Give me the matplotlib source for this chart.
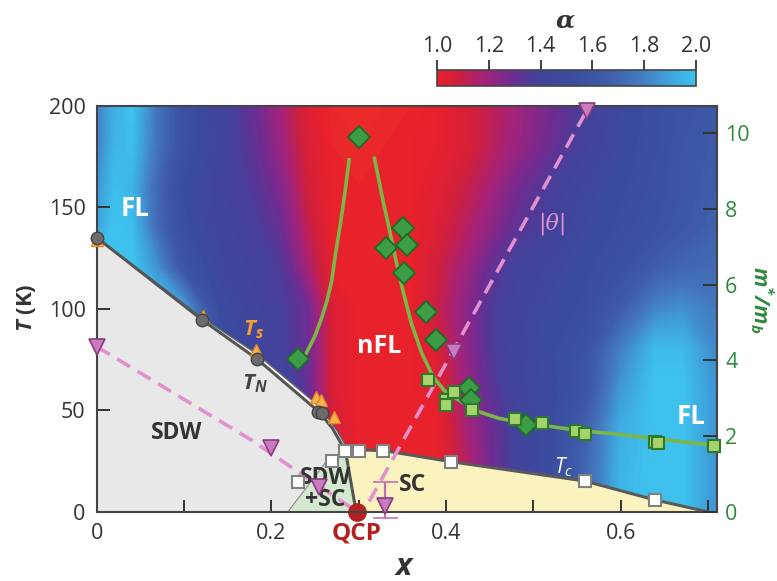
import numpy as np
import matplotlib
matplotlib.use("Agg")
import matplotlib.pyplot as plt
from matplotlib.colors import LinearSegmentedColormap, Normalize
import matplotlib.cm as cm

plt.rcParams['font.family'] = ['Open Sans', 'DejaVu Sans']
plt.rcParams['mathtext.fontset'] = 'custom'
plt.rcParams['mathtext.rm'] = 'Open Sans'
plt.rcParams['mathtext.it'] = 'Open Sans:italic'
plt.rcParams['mathtext.bf'] = 'Open Sans:bold'
plt.rcParams['mathtext.bfit'] = 'Open Sans:italic:bold'

# ---------------- data ----------------
# alpha field (resistivity exponent)
alpha_x = [0.00, 0.02, 0.04, 0.07, 0.10, 0.14, 0.18, 0.21, 0.24, 0.27, 0.30, 0.33,
           0.36, 0.39, 0.42, 0.45, 0.48, 0.52, 0.56, 0.60, 0.64, 0.67, 0.71]
alpha_T = [0, 20, 40, 60, 80, 100, 120, 140, 160, 180, 200]
alpha_T0   = [2.0, 2.0, 2.0, 2.0, 2.0, 2.0, 2.0, 1.6, 1.4, 1.05, 1.0, 1.0, 1.0, 1.0, 1.10, 1.25, 1.38, 1.48, 1.70, 1.95, 2.0, 2.0, 1.85]
alpha_T20  = [2.0, 2.0, 2.0, 2.0, 2.0, 2.0, 2.0, 1.6, 1.4, 1.05, 1.0, 1.0, 1.0, 1.0, 1.12, 1.27, 1.40, 1.50, 1.70, 1.95, 2.0, 2.0, 1.85]
alpha_T40  = [2.0, 2.0, 2.0, 2.0, 2.0, 2.0, 1.8, 1.6, 1.45, 1.08, 1.0, 1.0, 1.0, 1.0, 1.15, 1.28, 1.40, 1.50, 1.68, 1.93, 2.0, 2.0, 1.85]
alpha_T60  = [2.0, 2.0, 2.0, 2.0, 2.0, 2.0, 1.75, 1.45, 1.32, 1.05, 1.0, 1.0, 1.0, 1.02, 1.18, 1.32, 1.42, 1.48, 1.60, 1.87, 2.0, 2.0, 1.85]
alpha_T80  = [2.0, 2.0, 2.0, 2.0, 2.0, 1.55, 1.42, 1.40, 1.30, 1.05, 1.0, 1.0, 1.0, 1.05, 1.20, 1.35, 1.43, 1.50, 1.58, 1.80, 1.97, 1.97, 1.82]
alpha_T100 = [2.0, 2.0, 2.0, 2.0, 1.9, 1.50, 1.42, 1.38, 1.30, 1.05, 1.0, 1.0, 1.0, 1.10, 1.22, 1.35, 1.42, 1.48, 1.52, 1.65, 1.82, 1.85, 1.78]
alpha_T120 = [2.0, 2.0, 2.0, 1.85, 1.6, 1.45, 1.40, 1.36, 1.18, 1.0, 1.0, 1.0, 1.0, 1.08, 1.18, 1.30, 1.40, 1.45, 1.50, 1.56, 1.66, 1.70, 1.72]
alpha_T140 = [1.9, 2.0, 1.98, 1.72, 1.52, 1.43, 1.38, 1.30, 1.12, 1.0, 1.0, 1.0, 1.0, 1.05, 1.13, 1.22, 1.32, 1.40, 1.47, 1.52, 1.57, 1.62, 1.68]
alpha_T160 = [1.85, 1.98, 1.95, 1.70, 1.50, 1.42, 1.35, 1.25, 1.08, 1.0, 0.99, 1.0, 1.0, 1.03, 1.09, 1.17, 1.27, 1.37, 1.45, 1.50, 1.55, 1.60, 1.66]
alpha_T180 = [1.8, 1.95, 1.98, 1.75, 1.55, 1.43, 1.32, 1.20, 1.06, 0.99, 0.98, 0.99, 1.0, 1.01, 1.05, 1.12, 1.20, 1.30, 1.40, 1.48, 1.54, 1.60, 1.64]
alpha_T200 = [1.8, 1.93, 2.0, 1.75, 1.55, 1.42, 1.30, 1.18, 1.04, 0.98, 0.97, 0.98, 0.99, 1.01, 1.05, 1.12, 1.18, 1.28, 1.38, 1.47, 1.53, 1.58, 1.62]

# phase boundaries
tn_line_x = [0.0, 0.121, 0.183, 0.255, 0.270, 0.282, 0.286, 0.297]
tn_line_T = [135, 94.4, 75.4, 49.0, 41.0, 32.0, 27.0, 0.0]
ts_line_x = [0.0, 0.121, 0.183, 0.255, 0.275, 0.287]
ts_line_T = [135, 95.5, 77.8, 51.8, 40.0, 31.0]
tc_line_x = [0.284, 0.300, 0.330, 0.406, 0.559, 0.639, 0.699]
tc_line_T = [30.5, 30.5, 30.0, 24.6, 15.1, 5.8, 0.0]
coex_x = [0.219, 0.267, 0.286, 0.297]
coex_T = [0.0, 27.0, 27.0, 0.0]

# transition points
tn_pts_x = [0.0, 0.121, 0.183, 0.253, 0.258]
tn_pts_T = [134.8, 94.4, 75.2, 49.3, 48.5]
ts_pts_x = [0.0, 0.122, 0.182, 0.251, 0.257, 0.272]
ts_pts_T = [134.0, 96.3, 79.6, 56.6, 55.0, 46.8]
tc_pts_x = [0.231, 0.269, 0.284, 0.300, 0.328, 0.406, 0.559, 0.639]
tc_pts_T = [14.8, 25.0, 30.0, 30.0, 29.8, 24.6, 15.1, 5.8]
qcp_x = [0.298]
qcp_T = [0.0]

# |theta| crossover
theta_left_x = [0.0, 0.177, 0.298]
theta_left_T = [81.3, 35.3, 0.0]
theta_right_x = [0.312, 0.561]
theta_right_T = [5.0, 197.5]
theta_x = [0.0, 0.200, 0.255, 0.409, 0.561]
theta_T = [81.3, 31.2, 12.3, 78.8, 197.5]
theta_err_x = [0.330]
theta_err_T = [2.8]
theta_err_lo = [6.1]
theta_err_hi = [12.0]

# effective mass m*/m_b (right axis)
dia_x = [0.230, 0.300, 0.351, 0.331, 0.355, 0.352, 0.377, 0.389, 0.426, 0.428, 0.491]
dia_m = [4.03, 9.91, 7.49, 6.96, 7.05, 6.32, 5.29, 4.54, 3.28, 2.95, 2.29]
sq_x = [0.379, 0.400, 0.400, 0.409, 0.430, 0.479, 0.510, 0.549, 0.559, 0.639, 0.643, 0.707]
sq_m = [3.48, 2.95, 2.82, 3.15, 2.69, 2.44, 2.35, 2.14, 2.05, 1.85, 1.81, 1.74]
fit_left_x = [0.240, 0.250, 0.258, 0.264, 0.269, 0.274, 0.279, 0.284, 0.289]
fit_left_m = [4.19, 4.65, 5.15, 5.6, 6.1, 6.9, 7.6, 8.4, 9.3]
fit_right_x = [0.318, 0.327, 0.336, 0.343, 0.350, 0.360, 0.372, 0.385, 0.398, 0.411,
               0.425, 0.438, 0.460, 0.490, 0.518, 0.550, 0.600, 0.650, 0.709]
fit_right_m = [9.34, 8.3, 7.36, 6.6, 5.9, 5.0, 4.2, 3.57, 3.2, 3.0,
               2.8, 2.64, 2.47, 2.34, 2.26, 2.15, 2.04, 1.9, 1.75]

# colour scale
cmap_stops = [0.90, 1.00, 1.08, 1.18, 1.28, 1.38, 1.50, 1.65, 1.78, 1.90, 2.00]
cmap_colors = ['#ee4a28', '#e8202a', '#d01f3c', '#a3237a', '#722a90', '#45409a',
               '#3a4b9e', '#3e5aa9', '#4478bf', '#3fa3dc', '#3ec3ee']
cbar_ticks = [1.0, 1.2, 1.4, 1.6, 1.8, 2.0]

# ---------------- figure ----------------
fig = plt.figure(figsize=(7.77, 5.81), dpi=100)
ax = fig.add_axes([0.1245, 0.1193, 0.798, 0.6988])

lo, hi = cmap_stops[0], cmap_stops[-1]
field_cmap = LinearSegmentedColormap.from_list(
    'field', [((s - lo) / (hi - lo), c) for s, c in zip(cmap_stops, cmap_colors)])
cb_stops = [(s, c) for s, c in zip(cmap_stops, cmap_colors) if s >= 1.0]
cbar_cmap = LinearSegmentedColormap.from_list(
    'cbar', [((s - 1.0) / (2.0 - 1.0), c) for s, c in cb_stops])

alpha_grid = np.array([alpha_T0, alpha_T20, alpha_T40, alpha_T60, alpha_T80, alpha_T100,
                       alpha_T120, alpha_T140, alpha_T160, alpha_T180, alpha_T200])
ax.contourf(alpha_x, alpha_T, alpha_grid, levels=np.linspace(lo, hi, 111),
            cmap=field_cmap, norm=Normalize(lo, hi), extend='both', zorder=0)

# regions
ax.fill([0.0] + tn_line_x, [0.0] + tn_line_T, color='#e8e8e8', lw=0, zorder=1)
band_x = ts_line_x + tn_line_x[5::-1]
band_T = ts_line_T + tn_line_T[5::-1]
ax.fill(band_x, band_T, color='white', lw=0, zorder=1)
ax.fill([0.297, 0.286] + tc_line_x, [0.0, 27.0] + tc_line_T, color='#faf3bf', lw=0, zorder=1)
ax.fill(coex_x, coex_T, facecolor='#d4e8cf', edgecolor='#8a8a8a', lw=0.8, zorder=1.2)

ax.plot(ts_line_x, ts_line_T, color='#666666', lw=1.0, zorder=2)
ax.plot(tn_line_x, tn_line_T, color='#555555', lw=2.2, zorder=2, solid_capstyle='butt')
ax.plot(tc_line_x, tc_line_T, color='#5a5a5a', lw=2.2, zorder=2)

# theta crossover
pink = '#e290cf'
ax.plot(theta_left_x, theta_left_T, color=pink, lw=2.6, ls=(0, (4.2, 2.4)), zorder=2.2)
ax.plot(theta_right_x, theta_right_T, color=pink, lw=2.6, ls=(0, (4.2, 2.4)), zorder=2.2)
ax.errorbar(theta_err_x, theta_err_T, yerr=[theta_err_lo, theta_err_hi], fmt='v', ms=12,
            mfc='#c87cbf', mec='#8b3a80', mew=1.2, ecolor='#c070b4', elinewidth=1.6,
            capsize=9, capthick=1.6, zorder=5, clip_on=False)
ax.plot(theta_x, theta_T, 'v', ms=12, mfc='#c87cbf', mec='#8b3a80', mew=1.2,
        zorder=5, clip_on=False)

# transition points
ax.plot(ts_pts_x, ts_pts_T, '^', ms=9, mfc='#f6b451', mec='#e58b1f', mew=1.0,
        zorder=4, clip_on=False)
ax.plot(tn_pts_x, tn_pts_T, 'o', ms=9, mfc='#6b6b6b', mec='#444444', mew=1.0,
        zorder=4.2, clip_on=False)
ax.plot(tc_pts_x, tc_pts_T, 's', ms=8.5, mfc='white', mec='#808080', mew=1.5, zorder=4)
ax.plot(qcp_x, qcp_T, 'o', ms=12.5, color='#b3201f', zorder=2.4, clip_on=False)

# labels inside
bold = dict(fontweight='bold', ha='center', va='center')
ax.text(0.044, 149.4, 'FL', color='white', fontsize=18.5, **bold)
ax.text(0.680, 46.8, 'FL', color='white', fontsize=18.5, **bold)
ax.text(0.324, 81.5, 'nFL', color='white', fontsize=18, **bold)
ax.text(0.092, 39.0, 'SDW', color='#333333', fontsize=16.5, **bold)
ax.text(0.262, 11.0, 'SDW\n+SC', color='#333333', fontsize=16.5, linespacing=0.9, **bold)
ax.text(0.362, 13.0, 'SC', color='#333333', fontsize=16.5, **bold)
ax.text(0.297, -10.6, 'QCP', color='#b3201f', fontsize=17.5, clip_on=False, **bold)
ax.text(0.180, 89.5, r'$\mathbfit{T}_{\mathbfit{s}}$', color='#f0a030', fontsize=16,
        ha='center', va='center')
ax.text(0.181, 63.0, r'$\mathbfit{T}_{\mathbfit{N}}$', color='#444444', fontsize=16,
        ha='center', va='center')
ax.text(0.535, 22.0, r'$\mathit{T}_{\mathit{c}}$', color='white', fontsize=15,
        ha='center', va='center')
ax.text(0.522, 142.0, '|θ|', color=pink, fontsize=16, family='DejaVu Serif',
        style='italic', ha='center', va='center')

# axes
ax.set_xlim(0, 0.71)
ax.set_ylim(0, 200)
ax.set_xticks([0, 0.2, 0.4, 0.6])
ax.set_xticklabels(['0', '0.2', '0.4', '0.6'])
ax.set_xticks([0.1, 0.3, 0.5, 0.7], minor=True)
ax.set_yticks([0, 50, 100, 150, 200])
ax.tick_params(axis='both', which='both', direction='in', length=9, width=1.4,
               color='#333333', labelcolor='#333333', labelsize=15.5, pad=8)
for s in ax.spines.values():
    s.set_color('#444444')
    s.set_linewidth(1.5)

ax2 = ax.twinx()
ax2.set_ylim(0, 10.73)
ax2.set_yticks([0, 2, 4, 6, 8, 10])
ax2.tick_params(axis='y', direction='in', length=10, width=1.4, color='#333333',
                labelcolor='#2f8a3a', labelsize=15.5, pad=6)
ax2.plot(fit_left_x, fit_left_m, color='#7ab648', lw=2.6, zorder=3)
ax2.plot(fit_right_x, fit_right_m, color='#7ab648', lw=2.6, zorder=3)
ax2.plot(dia_x, dia_m, 'D', ms=11, mfc='#3d9c46', mec='#1f6b28', mew=1.3, zorder=4)
ax2.plot(sq_x, sq_m, 's', ms=9, mfc='#a6d36b', mec='#2d7a2e', mew=1.5, zorder=4,
         clip_on=False)
for s in ax2.spines.values():
    s.set_visible(False)

# axis titles
fig.text(27 / 777, 1 - 308 / 581, r'$\mathbfit{T}$ (K)', rotation=90, fontsize=16,
         fontweight='bold', color='#333333', ha='center', va='center')
fig.text(405 / 777, 1 - 567 / 581, r'$\mathbfit{x}$', fontsize=22, color='#333333',
         ha='center', va='center')
fig.text(762 / 777, 1 - 300 / 581, r'$\mathbfit{m^{*}/m_{b}}$', rotation=270, fontsize=15.5,
         color='#2f8a3a', ha='center', va='center')

# colorbar
cax = fig.add_axes([437 / 777, 1 - 86 / 581, 259 / 777, 16 / 581])
sm = cm.ScalarMappable(norm=Normalize(1.0, 2.0), cmap=cbar_cmap)
cb = fig.colorbar(sm, cax=cax, orientation='horizontal')
cax.xaxis.set_ticks_position('top')
cb.set_ticks(cbar_ticks)
cb.set_ticklabels(['%.1f' % t for t in cbar_ticks])
cax.tick_params(axis='x', direction='out', length=7, width=1.3, color='#333333',
                labelcolor='#333333', labelsize=15.5, pad=2)
cb.outline.set_edgecolor('#444444')
cb.outline.set_linewidth(1.2)
fig.text(565 / 777, 1 - 20 / 581, 'α', fontsize=18, family='DejaVu Serif',
         fontweight='bold', style='italic', color='#333333', ha='center', va='center')

fig.savefig('out.png', dpi=100)
